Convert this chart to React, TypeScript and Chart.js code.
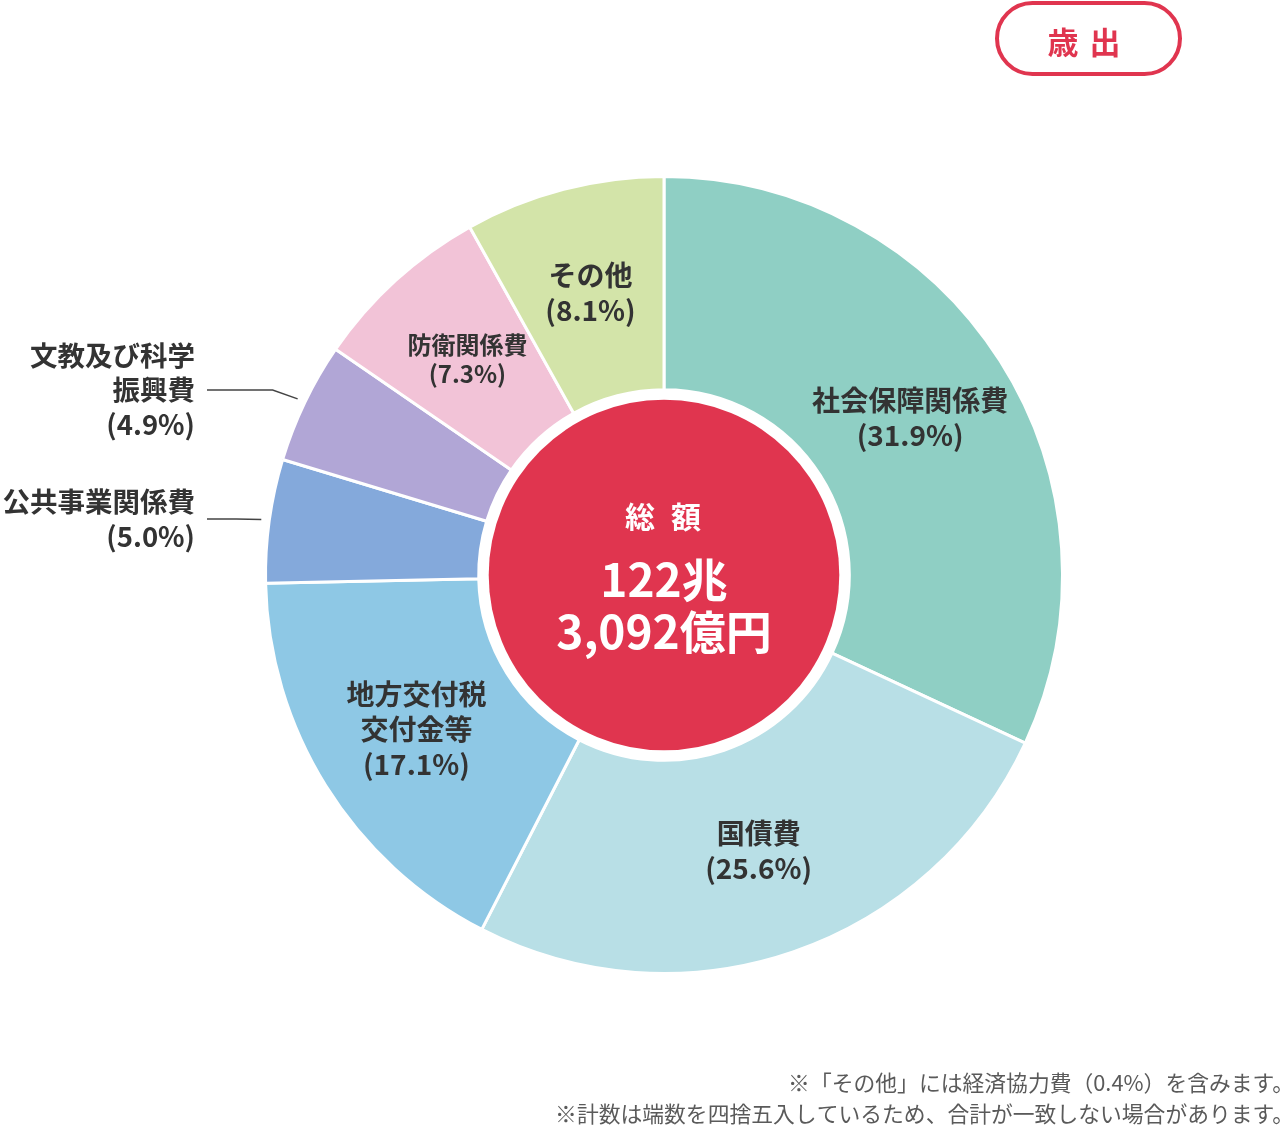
import React, { useEffect, useRef } from "react";
import { Chart, registerables } from "chart.js";

Chart.register(...registerables);

// ---- data ----
const categories: string[][] = [
  ["社会保障関係費"],
  ["国債費"],
  ["地方交付税", "交付金等"],
  ["公共事業関係費"],
  ["文教及び科学", "振興費"],
  ["防衛関係費"],
  ["その他"],
];
const shares: number[] = [31.9, 25.6, 17.1, 5.0, 4.9, 7.3, 8.1];
const colors: string[] = ["#8fcfc4", "#b8dfe6", "#8ec8e5", "#84a9db", "#b1a6d6", "#f2c3d7", "#d3e4a9"];
const centerTitle: string[] = ["総", "額"];
const totalLines: string[] = ["122兆", "3,092億円"];
const badgeText: string[] = ["歳", "出"];
const footnotes: string[] = [
  "※「その他」には経済協力費（0.4%）を含みます。",
  "※計数は端数を四捨五入しているため、合計が一致しない場合があります。",
];

const FONT = '"Noto Sans CJK JP", "Noto Sans", sans-serif';
const RED = "#e0354f";
const TEXT = "#333333";
const W = 1287;
const H = 1125;

// outside labels: index -> label right edge & vertical center
const outside: Record<number, { right: number; y: number }> = {
  4: { right: 195, y: 390 },
  3: { right: 195, y: 519 },
};

const labelPlugin = {
  id: "customLabels",
  afterDatasetsDraw(chart: any) {
    const ctx: CanvasRenderingContext2D = chart.ctx;
    const meta = chart.getDatasetMeta(0);
    const arcs = meta.data as any[];
    if (!arcs.length) return;
    const first = arcs[0];
    const cx = first.x;
    const cy = first.y;
    const inner = first.innerRadius;
    const outer = first.outerRadius;
    ctx.save();

    // red center circle
    ctx.beginPath();
    ctx.arc(cx, cy, inner - 10, 0, Math.PI * 2);
    ctx.fillStyle = RED;
    ctx.fill();

    ctx.fillStyle = "#ffffff";
    ctx.textAlign = "center";
    ctx.textBaseline = "middle";
    ctx.font = `700 30px ${FONT}`;
    ctx.fillText(centerTitle[0], cx - 24, cy - 58);
    ctx.fillText(centerTitle[1], cx + 22, cy - 58);
    ctx.font = `700 46px ${FONT}`;
    ctx.fillText(totalLines[0], cx, cy + 5);
    ctx.fillText(totalLines[1], cx, cy + 57);

    // segment labels
    arcs.forEach((arc: any, i: number) => {
      const lines = [...categories[i], `(${shares[i].toFixed(1)}%)`];
      ctx.fillStyle = TEXT;
      if (outside[i]) {
        const o = outside[i];
        const mid = (arc.startAngle + arc.endAngle) / 2;
        const ex = cx + Math.cos(mid) * (outer + 8);
        const ey = cy + Math.sin(mid) * (outer + 8);
        ctx.strokeStyle = "#444444";
        ctx.lineWidth = 1.5;
        ctx.beginPath();
        ctx.moveTo(o.right + 12, o.y);
        ctx.lineTo(ex - 25, o.y);
        ctx.lineTo(ex, ey);
        ctx.stroke();
        ctx.font = `700 27.5px ${FONT}`;
        ctx.textAlign = "right";
        const lh = 34.5;
        const y0 = o.y - ((lines.length - 1) * lh) / 2;
        lines.forEach((t, k) => ctx.fillText(t, o.right, y0 + k * lh));
      } else {
        const p = arc.tooltipPosition();
        const small = shares[i] < 7.5;
        const fs = small ? 24 : 28;
        const lh = small ? 29 : 35;
        ctx.font = `700 ${fs}px ${FONT}`;
        ctx.textAlign = "center";
        const y0 = p.y - ((lines.length - 1) * lh) / 2;
        lines.forEach((t, k) => ctx.fillText(t, p.x, y0 + k * lh));
      }
    });

    // badge
    ctx.strokeStyle = RED;
    ctx.lineWidth = 4;
    ctx.beginPath();
    (ctx as any).roundRect(997, 3, 183, 71, 35.5);
    ctx.stroke();
    ctx.fillStyle = RED;
    ctx.font = `700 31px ${FONT}`;
    ctx.textAlign = "center";
    ctx.fillText(badgeText[0], 1063, 42);
    ctx.fillText(badgeText[1], 1105, 42);

    // footnotes
    ctx.fillStyle = "#5a5a5a";
    ctx.font = `400 21.8px ${FONT}`;
    ctx.textAlign = "right";
    ctx.fillText(footnotes[0], 1294, 1083);
    ctx.fillText(footnotes[1], 1294, 1114);

    ctx.restore();
  },
};

export default function App() {
  const ref = useRef<HTMLCanvasElement | null>(null);
  useEffect(() => {
    if (!ref.current) return;
    const chart = new Chart(ref.current, {
      type: "doughnut",
      data: {
        labels: categories.map((c) => c.join("")),
        datasets: [
          {
            data: shares,
            backgroundColor: colors,
            borderColor: "#ffffff",
            borderWidth: 3,
          },
        ],
      },
      options: {
        responsive: false,
        animation: false,
        devicePixelRatio: 1,
        cutout: "46.5%",
        layout: { padding: { left: 264, top: 175, right: 223, bottom: 150 } },
        plugins: { legend: { display: false }, tooltip: { enabled: false } },
        events: [],
      },
      plugins: [labelPlugin],
    } as any);
    return () => chart.destroy();
  }, []);
  return (
    <div style={{ position: "absolute", left: 0, top: 0, width: W, height: H, background: "#fff" }}>
      <canvas ref={ref} width={W} height={H} style={{ display: "block" }} />
    </div>
  );
}
